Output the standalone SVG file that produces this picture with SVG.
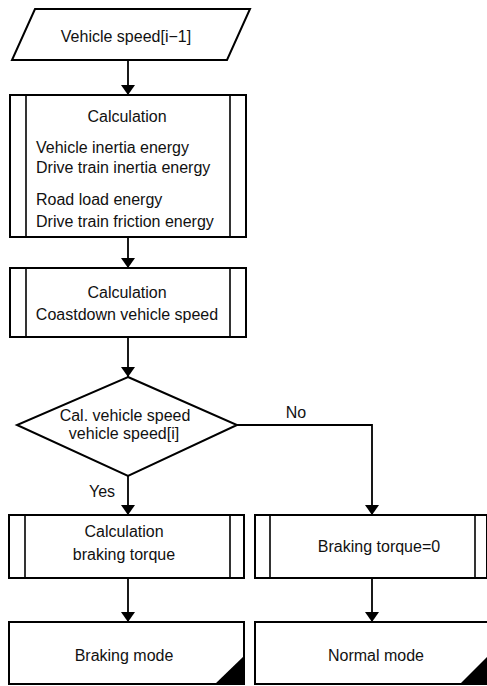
<svg xmlns="http://www.w3.org/2000/svg" width="487" height="686" viewBox="0 0 487 686">
<defs>
<marker id="ah" viewBox="0 0 10 14" refX="10" refY="7" markerWidth="10" markerHeight="14" markerUnits="userSpaceOnUse" orient="auto">
<path d="M0,0 L10,7 L0,14 Z" fill="#000"/>
</marker>
<style>
.s{fill:#fff;stroke:#000;stroke-width:2}
.l{fill:none;stroke:#000;stroke-width:1.6}
.c{stroke:#000;stroke-width:1.8;fill:none}
text{font-family:"Liberation Sans",Arial,sans-serif;font-size:16px;fill:#111}
.m{text-anchor:middle}
</style>
</defs>
<rect width="487" height="686" fill="#fff"/>
<g id="connectors">
<line class="c" x1="128" y1="60" x2="128" y2="95" marker-end="url(#ah)"/>
<line class="c" x1="128" y1="237" x2="128" y2="268" marker-end="url(#ah)"/>
<line class="c" x1="128" y1="337" x2="128" y2="377" marker-end="url(#ah)"/>
<line class="c" x1="128" y1="476" x2="128" y2="515" marker-end="url(#ah)"/>
<polyline class="c" points="237,425 372,425 372,515" marker-end="url(#ah)"/>
<line class="c" x1="128" y1="578" x2="128" y2="622" marker-end="url(#ah)"/>
<line class="c" x1="372" y1="578" x2="372" y2="622" marker-end="url(#ah)"/>
<text class="m" x="296" y="418">No</text>
<text class="m" x="102" y="497">Yes</text>
</g>
<g id="input">
<polygon class="s" points="35,9 250,9 227,60 12,60"/>
<text class="m" x="126" y="42">Vehicle speed[i−1]</text>
</g>
<g id="calc1">
<rect class="s" x="10" y="95" width="236" height="142"/>
<line class="l" x1="26" y1="95" x2="26" y2="237"/>
<line class="l" x1="230" y1="95" x2="230" y2="237"/>
<text class="m" x="127" y="122">Calculation</text>
<text x="36" y="153">Vehicle inertia energy</text>
<text x="36" y="173">Drive train inertia energy</text>
<text x="36" y="205">Road load energy</text>
<text x="36" y="227">Drive train friction energy</text>
</g>
<g id="calc2">
<rect class="s" x="10" y="268" width="236" height="69"/>
<line class="l" x1="26" y1="268" x2="26" y2="337"/>
<line class="l" x1="230" y1="268" x2="230" y2="337"/>
<text class="m" x="127" y="298">Calculation</text>
<text class="m" x="127" y="320">Coastdown vehicle speed</text>
</g>
<g id="decision">
<polygon class="s" points="128,377 237,425 128,476 17,425"/>
<text class="m" x="125" y="421">Cal. vehicle speed</text>
<text class="m" x="124" y="439">vehicle speed[i]</text>
</g>
<g id="calc3">
<rect class="s" x="9" y="515" width="235" height="63"/>
<line class="l" x1="25" y1="515" x2="25" y2="578"/>
<line class="l" x1="230" y1="515" x2="230" y2="578"/>
<text class="m" x="124" y="537">Calculation</text>
<text class="m" x="124" y="560">braking torque</text>
</g>
<g id="torque0">
<rect class="s" x="255" y="515" width="232" height="63"/>
<line class="l" x1="270" y1="515" x2="270" y2="578"/>
<line class="l" x1="475" y1="515" x2="475" y2="578"/>
<text class="m" x="379" y="552">Braking torque=0</text>
</g>
<g id="braking">
<rect class="s" x="9" y="622" width="235" height="62"/>
<polygon points="215,684 244,684 244,656" fill="#000"/>
<text class="m" x="124" y="661">Braking mode</text>
</g>
<g id="normal">
<rect class="s" x="255" y="622" width="234" height="62"/>
<polygon points="460,684 489,684 489,655" fill="#000"/>
<text class="m" x="376" y="661">Normal mode</text>
</g>
</svg>
